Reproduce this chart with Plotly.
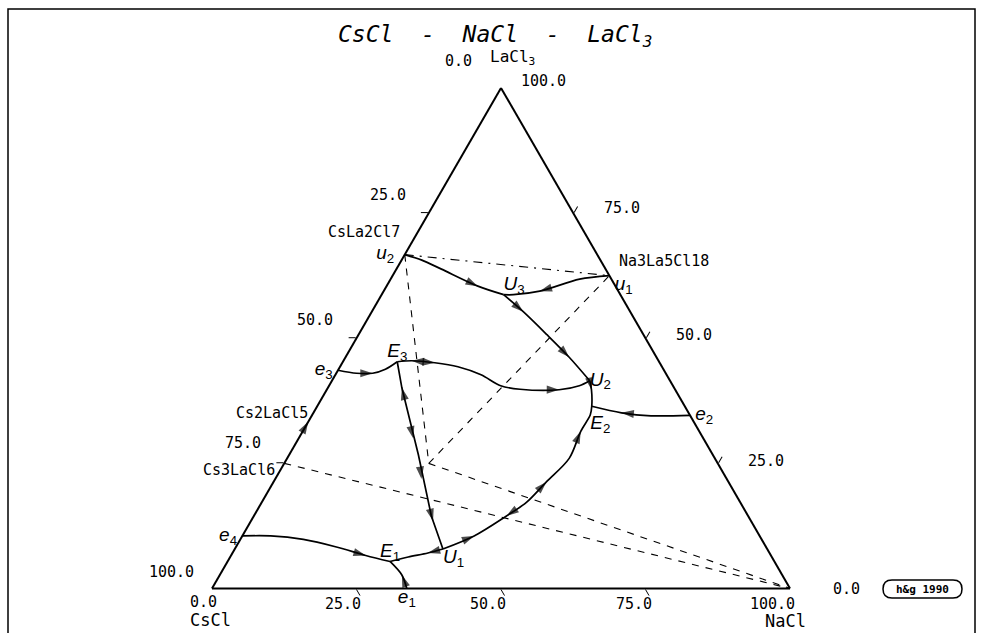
import math
import plotly.graph_objects as go

W, H = 981, 633

# ---------------- data: compositions in mol-% as (LaCl3, CsCl, NaCl) ----------------
LaCl3 = (100.0, 0.0, 0.0)
CsCl = (0.0, 100.0, 0.0)
NaCl = (0.0, 0.0, 100.0)
CsLa2Cl7 = (66.7, 33.3, 0.0)
Na3La5Cl18 = (62.5, 0.0, 37.5)
Cs2LaCl5 = (33.3, 66.7, 0.0)
Cs3LaCl6 = (25.0, 75.0, 0.0)
Cs2NaLaCl6 = (25.0, 50.0, 25.0)

pt_u1 = Na3La5Cl18
pt_u2 = CsLa2Cl7
pt_U1 = (7.9, 56.1, 36.0)
pt_U2 = (41.5, 13.9, 44.6)
pt_U3 = (58.7, 20.2, 21.1)
pt_E1 = (5.4, 66.5, 28.1)
pt_E2 = (36.4, 16.1, 47.5)
pt_E3 = (45.3, 45.3, 9.4)
pt_e1 = (0.0, 66.3, 33.7)
pt_e2 = (34.6, 0.0, 65.4)
pt_e3 = (43.6, 56.4, 0.0)
pt_e4 = (10.5, 89.5, 0.0)

curve_u2_U3 = [pt_u2, (65.6, 30.9, 3.5), (63.8, 28.4, 7.8), (60.4, 23.8, 15.8), pt_U3]
curve_u1_U3 = [pt_u1, (61.8, 5.5, 32.7), (59.4, 13.6, 27.0), (58.7, 18.5, 22.8), pt_U3]
curve_U3_U2 = [pt_U3, (55.3, 18.5, 26.2), (50.7, 16.7, 32.6), (46.2, 15.1, 38.7), pt_U2]
curve_U2_U1 = [pt_U2, (39.7, 14.5, 45.8), pt_E2, (34.7, 17.2, 48.1), (31.4, 20.5, 48.1),
               (26.0, 25.2, 48.8), (21.3, 31.5, 47.2), (17.2, 37.0, 45.8), (14.5, 41.8, 43.7),
               (10.5, 49.4, 40.1), pt_U1]
curve_e2_E2 = [pt_e2, (34.5, 6.8, 58.7), (35.1, 11.6, 53.3), pt_E2]
curve_e3_E3 = [pt_e3, (43.0, 53.5, 3.5), (43.0, 50.7, 6.3), (43.8, 48.1, 8.1), pt_E3]
curve_E3_U2 = [pt_E3, (45.5, 42.7, 11.8), (45.1, 38.9, 16.0), (44.3, 35.3, 20.4), (42.7, 32.1, 25.2),
               (40.5, 29.8, 29.7), (39.8, 26.8, 33.4), (39.7, 20.1, 40.2), (40.5, 16.2, 43.3), pt_U2]
curve_E3_U1 = [pt_E3, (40.1, 47.1, 12.8), (26.7, 51.0, 22.4), (14.5, 54.8, 30.7), pt_U1]
curve_U1_E1 = [pt_U1, (7.1, 59.1, 33.8), (6.3, 62.9, 30.8), pt_E1]
curve_e4_E1 = [pt_e4, (10.5, 84.6, 4.9), (9.8, 79.3, 10.9), (8.3, 74.4, 17.4), (6.6, 70.1, 23.3), pt_E1]
curve_e1_E1 = [pt_e1, (2.7, 65.8, 31.5), pt_E1]

solid_curves = [curve_u2_U3, curve_u1_U3, curve_U3_U2, curve_U2_U1, curve_e2_E2, curve_e3_E3,
                curve_E3_U2, curve_U1_E1, curve_e4_E1, curve_e1_E1]
straight_curves = [curve_E3_U1]

tie_lines = [(CsLa2Cl7, Cs2NaLaCl6), (Cs2NaLaCl6, Na3La5Cl18),
             (Cs2NaLaCl6, NaCl), (Cs3LaCl6, NaCl)]
tie_dashdot = [(CsLa2Cl7, Na3La5Cl18)]

# arrows: (tail, head) - direction of falling temperature
arrows = [
    ((63.8, 28.4, 7.8), (60.4, 23.8, 15.8)),
    ((61.8, 5.5, 32.7), (59.4, 13.6, 27.0)),
    (pt_U3, (55.3, 18.5, 26.2)),
    ((50.7, 16.7, 32.6), (46.2, 15.1, 38.7)),
    (pt_U2, (39.7, 14.5, 45.8)),
    ((34.5, 6.8, 58.7), (35.1, 11.6, 53.3)),
    ((26.0, 25.2, 48.8), (31.4, 20.5, 48.1)),
    ((17.2, 37.0, 45.8), (21.3, 31.5, 47.2)),
    ((17.2, 37.0, 45.8), (14.5, 41.8, 43.7)),
    (pt_U1, (10.5, 49.4, 40.1)),
    (pt_U1, (7.1, 59.1, 33.8)),
    ((8.3, 74.4, 17.4), (6.6, 70.1, 23.3)),
    (pt_e1, (2.7, 65.8, 31.5)),
    ((43.0, 53.5, 3.5), (43.0, 50.7, 6.3)),
    ((45.1, 38.9, 16.0), (45.5, 42.7, 11.8)),
    ((45.5, 42.7, 11.8), (45.1, 38.9, 16.0)),
    ((39.8, 26.8, 33.4), (39.7, 20.1, 40.2)),
    ((26.7, 51.0, 22.4), (40.1, 47.1, 12.8)),
    ((40.1, 47.1, 12.8), (30.0, 50.2, 19.8)),
    ((26.7, 51.0, 22.4), (21.9, 52.8, 25.3)),
    ((21.9, 52.8, 25.3), (13.5, 55.0, 31.5)),
    ((30.0, 70.0, 0.0), Cs2LaCl5),
]

NB = "\u00a0"
point_labels = [
    (pt_u2, "<i>u</i><sub>2</sub>" + NB * 2, "middle left"),
    (pt_u1, NB + "<i>u</i><sub>1</sub>", "bottom right"),
    (pt_U3, "<i>U</i><sub>3</sub>", "top right"),
    (pt_U2, "<i>U</i><sub>2</sub>", "middle right"),
    ((34.7, 17.2, 48.1), "<i>E</i><sub>2</sub>", "bottom right"),
    (pt_e2, NB + "<i>e</i><sub>2</sub>", "middle right"),
    (pt_E3, "<i>E</i><sub>3</sub>", "top center"),
    (pt_e3, "<i>e</i><sub>3</sub>" + NB, "middle left"),
    (pt_e4, "<i>e</i><sub>4</sub>" + NB, "middle left"),
    (pt_E1, "<i>E</i><sub>1</sub>", "top center"),
    (pt_U1, "<i>U</i><sub>1</sub>", "bottom right"),
    (pt_e1, "<i>e</i><sub>1</sub>", "bottom center"),
]
compound_labels = [
    (Cs2LaCl5, "Cs2LaCl5", "top left"),
    (Cs3LaCl6, "Cs3LaCl6" + NB, "bottom left"),
]

tick_values = [25, 50, 75]

MONO = "DejaVu Sans Mono"
SANS = "Liberation Sans"

# ---------------- figure ----------------
fig = go.Figure()


def abc(points):
    return dict(a=[p[0] for p in points], b=[p[1] for p in points], c=[p[2] for p in points])


for tl in tie_lines:
    fig.add_trace(go.Scatterternary(**abc(tl), mode="lines", cliponaxis=False, hoverinfo="skip",
                                    line=dict(color="black", width=1.1, dash="7px,7px")))
for tl in tie_dashdot:
    fig.add_trace(go.Scatterternary(**abc(tl), mode="lines", cliponaxis=False, hoverinfo="skip",
                                    line=dict(color="black", width=1.1, dash="9px,6px,2px,6px")))

for cv in solid_curves:
    fig.add_trace(go.Scatterternary(**abc(cv), mode="lines", cliponaxis=False, hoverinfo="skip",
                                    line=dict(color="black", width=1.7, shape="spline", smoothing=0.9)))
for cv in straight_curves:
    fig.add_trace(go.Scatterternary(**abc(cv), mode="lines", cliponaxis=False, hoverinfo="skip",
                                    line=dict(color="black", width=1.7)))

arrow_pts = []
arrow_sizes = []
for tail, head in arrows:
    arrow_pts += [tail, head]
    arrow_sizes += [0, 13]
fig.add_trace(go.Scatterternary(**abc(arrow_pts), mode="markers", cliponaxis=False, hoverinfo="skip",
                                marker=dict(symbol="arrow", size=arrow_sizes, color="black",
                                            angleref="previous", line=dict(width=0))))

fig.add_trace(go.Scatterternary(**abc([p for p, _, _ in point_labels]), mode="text", cliponaxis=False,
                                hoverinfo="skip", text=[t for _, t, _ in point_labels],
                                textposition=[tp for _, _, tp in point_labels],
                                textfont=dict(family=SANS, size=19, color="black")))
fig.add_trace(go.Scatterternary(**abc([p for p, _, _ in compound_labels]), mode="text", cliponaxis=False,
                                hoverinfo="skip", text=[t for _, t, _ in compound_labels],
                                textposition=[tp for _, _, tp in compound_labels],
                                textfont=dict(family=MONO, size=15, color="black")))

axis_style = dict(title=dict(text=""), showgrid=False, showticklabels=False, ticks="outside",
                  ticklen=7, tickwidth=1.3, tickcolor="black", tickmode="array", tickvals=tick_values,
                  linecolor="black", linewidth=2, showline=True, min=0)

base_px = 578.0
cx, bottom = 501.0, 588.5
h_px = base_px * math.sqrt(3) / 2
dom_x = [(cx - base_px / 2) / W, (cx + base_px / 2) / W]
dom_y = [(H - bottom) / H, (H - bottom + h_px) / H]

fig.update_layout(
    width=W, height=H, margin=dict(l=0, r=0, t=0, b=0),
    paper_bgcolor="white", plot_bgcolor="white", showlegend=False,
    ternary=dict(sum=100, domain=dict(x=dom_x, y=dom_y), bgcolor="white",
                 aaxis=axis_style, baxis=axis_style, caxis=axis_style),
)


def ann(text, x, y, size=15, family=MONO, xanchor="center"):
    return dict(text=text, x=x / W, y=1 - y / H, xref="paper", yref="paper", showarrow=False,
                xanchor=xanchor, yanchor="middle", font=dict(family=family, size=size, color="black"))


left_labels = [("0.0", 458, 61), ("25.0", 388, 195), ("50.0", 315, 320), ("75.0", 243, 443), ("100.0", 171, 572)]
right_labels = [("100.0", 543, 81), ("75.0", 622, 208), ("50.0", 694, 335), ("25.0", 766, 461), ("0.0", 846, 589)]
bottom_labels = [("0.0", 203, 602), ("25.0", 343, 604), ("50.0", 488, 604), ("75.0", 634, 604), ("100.0", 772, 604)]

annotations = []
for t, x, y in left_labels + right_labels + bottom_labels:
    annotations.append(ann(t, x, y))
annotations.append(ann("CsLa2Cl7", 402, 232, xanchor="right"))
annotations.append(ann("Na3La5Cl18", 617, 261, xanchor="left"))
annotations.append(ann("LaCl<sub>3</sub>", 512, 58, size=16))
annotations.append(ann("CsCl", 210, 620, size=17))
annotations.append(ann("NaCl", 785, 621, size=17))
annotations.append(ann("<i>CsCl\u00a0\u00a0-\u00a0\u00a0NaCl\u00a0\u00a0-\u00a0\u00a0LaCl<sub>3</sub></i>", 495, 36, size=23))
annotations.append(ann("<b>h&g 1990</b>", 922, 589, size=11))
fig.update_layout(annotations=annotations)


def P(x, y):
    return f"{x / W:.5f},{1 - y / H:.5f}"


x0, x1, y0, y1 = 883, 962, 580, 598
r = (y1 - y0) / 2
ym = (y0 + y1) / 2
pill = (f"M{P(x0 + r, y0)} L{P(x1 - r, y0)} Q{P(x1, y0)} {P(x1, ym)} Q{P(x1, y1)} {P(x1 - r, y1)} "
        f"L{P(x0 + r, y1)} Q{P(x0, y1)} {P(x0, ym)} Q{P(x0, y0)} {P(x0 + r, y0)} Z")
fig.add_shape(type="path", path=pill, xref="paper", yref="paper", line=dict(color="black", width=1.5))
fig.add_shape(type="rect", xref="paper", yref="paper", x0=8 / W, x1=975 / W, y0=-0.05, y1=1 - 9 / H,
              line=dict(color="black", width=1.5))

fig.write_html("out.html")
